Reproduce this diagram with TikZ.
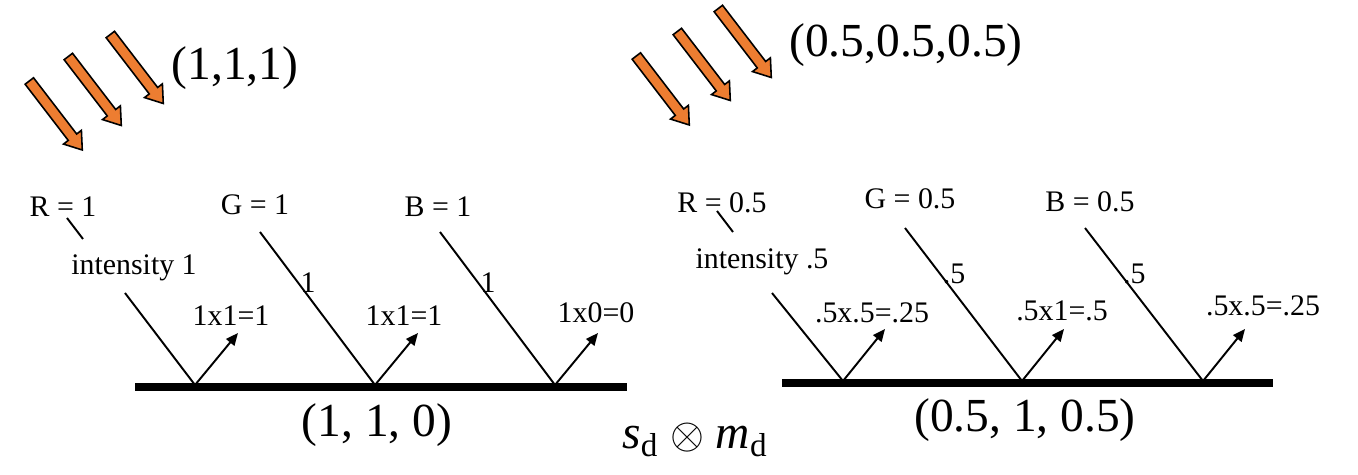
\documentclass[tikz,border=0pt]{standalone}
\usepackage{fontspec}
\setmainfont{Liberation Serif}
\usetikzlibrary{arrows.meta,shapes.arrows}
\definecolor{beamorange}{HTML}{ED7D31}

\begin{document}
\begin{tikzpicture}[
		x=0.02cm, y=-0.02cm,
		>={Triangle[length=7pt,width=6pt]},
		small/.style={font=\fontsize{17}{20}\selectfont, inner sep=0pt},
		big/.style={font=\fontsize{27}{32}\selectfont, inner sep=0pt},
		ray/.style={line width=1.1pt},
		bounce/.style={->, line width=1.1pt},
		surface/.style={line width=4pt},
		beam/.style={single arrow, draw=black, fill=beamorange, line width=0.9pt,
				inner sep=0.09cm, single arrow head extend=0.12cm,
				single arrow tip angle=70, minimum height=1.74cm, rotate=-52.5},
	]
	\useasboundingbox (0,0) rectangle (1358,475);

	% incoming light, white (1,1,1)
	\node[beam] (lbeam1) at (53.5,112.5) {};
	\node[beam] (lbeam2) at (92.5,88) {};
	\node[beam] (lbeam3) at (134.5,66) {};
	\node[big] (lwhite) at (235,68) {(1,1,1)};

	% incoming light, grey (0.5,0.5,0.5)
	\node[beam] (rbeam1) at (660.5,87.5) {};
	\node[beam] (rbeam2) at (701.5,63) {};
	\node[beam] (rbeam3) at (742.5,40) {};
	\node[big] (rgrey) at (906,45) {(0.5,0.5,0.5)};

	% left surface (1, 1, 0)
	\coordinate (lhitr) at (195,385);
	\coordinate (lhitg) at (375,385);
	\coordinate (lhitb) at (555,385);
	\draw[surface] (135,387) -- (627,387);
	\node[big] (lmat) at (377,425) {(1, 1, 0)};

	\node[small] (lrlab) at (63,207) {R = 1};
	\node[small] (lglab) at (255,205) {G = 1};
	\node[small] (lblab) at (438,207) {B = 1};
	\node[small] (lint) at (134,268) {intensity 1};

	\draw[ray] (67,218) -- (83,239);
	\draw[ray] (125,293) -- (lhitr);
	\draw[ray] (260,232) -- (lhitg) node[pos=0.33, right=1pt, small] {1};
	\draw[ray] (440,232) -- (lhitb) node[pos=0.33, right=1pt, small] {1};

	\draw[bounce] (lhitr) -- ++(43,-52);
	\draw[bounce] (lhitg) -- ++(43,-52);
	\draw[bounce] (lhitb) -- ++(43,-52);
	\node[small] (lout1) at (231,316) {1x1=1};
	\node[small] (lout2) at (404,316) {1x1=1};
	\node[small] (lout3) at (596,313) {1x0=0};

	% right surface (0.5, 1, 0.5)
	\coordinate (rhitr) at (843,381);
	\coordinate (rhitg) at (1022,381);
	\coordinate (rhitb) at (1203,381);
	\draw[surface] (782,383) -- (1273,383);
	\node[big] (rmat) at (1025,420) {(0.5, 1, 0.5)};

	\node[small] (rrlab) at (722,203) {R = 0.5};
	\node[small] (rglab) at (910,199) {G = 0.5};
	\node[small] (rblab) at (1090,202) {B = 0.5};
	\node[small] (rint) at (762,262) {intensity .5};

	\draw[ray] (717,211) -- (733,232);
	\draw[ray] (772,293) -- (rhitr);
	\draw[ray] (905,228) -- (rhitg) node[pos=0.3, right=1pt, small] {.5};
	\draw[ray] (1085,228) -- (rhitb) node[pos=0.3, right=1pt, small] {.5};

	\draw[bounce] (rhitr) -- ++(42,-52);
	\draw[bounce] (rhitg) -- ++(42,-52);
	\draw[bounce] (rhitb) -- ++(42,-52);
	\node[small] (rout1) at (872,313) {.5x.5=.25};
	\node[small] (rout2) at (1062,311) {.5x1=.5};
	\node[small] (rout3) at (1263,306) {.5x.5=.25};

	\node[big] (formula) at (695,440) {\textit{s}\textsubscript{d} $\otimes$ \textit{m}\textsubscript{d}};

\end{tikzpicture}
\end{document}
